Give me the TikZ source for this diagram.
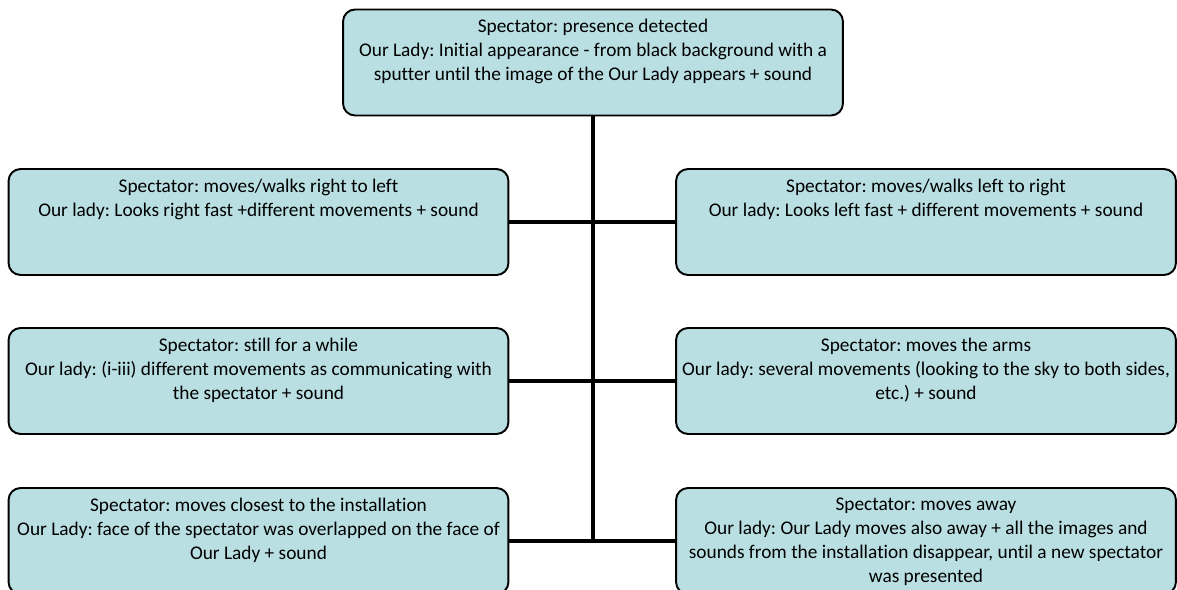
\documentclass[tikz,border=0pt]{standalone}
\usepackage{fontspec}
\setmainfont{Carlito}[Ligatures={NoCommon}]
\usepackage{tikz}
\frenchspacing

\definecolor{stagefill}{RGB}{185,223,227}
\newcommand{\stagetext}[1]{\parbox[c][1.72cm][t]{9.9cm}{\centering #1}}

\begin{document}
\begin{tikzpicture}
                [
                x=0.02cm, y=-0.02cm,
                stage/.style={rectangle,rounded corners=0.24cm,draw,line width=1.1pt,
                  fill=stagefill,inner xsep=0.05cm,inner ysep=0.2cm,
                  font=\fontsize{11pt}{13.6pt}\selectfont},
                link/.style={line width=2.8pt}
                ]
            \clip (0,0) rectangle (1177,589);
            \node[stage] (start) at (593,62.5) {\stagetext{Spectator: presence detected\\
              Our Lady: Initial appearance - from black background with a\\
              sputter until the image of the Our Lady appears + sound}};
            \node[stage] (rtl) at (258.5,222) {\stagetext{Spectator: moves/walks right to left\\
              Our lady: Looks right fast +different movements + sound}};
            \node[stage] (ltr) at (926,222) {\stagetext{Spectator: moves/walks left to right\\
              Our lady: Looks left fast + different movements + sound}};
            \node[stage] (still) at (258.5,381) {\stagetext{Spectator: still for a while\\
              Our lady: (i-iii) different movements as communicating with\\
              the spectator + sound}};
            \node[stage] (arms) at (926,381) {\stagetext{Spectator: moves the arms\\
              Our lady: several movements (looking to the sky to both sides,\\
              etc.) + sound}};
            \node[stage] (close) at (258.5,541) {\stagetext{Spectator: moves closest to the installation\\
              Our Lady: face of the spectator was overlapped on the face of\\
              Our Lady + sound}};
            \node[stage] (away) at (926,541) {\stagetext{Spectator: moves away\\
              Our lady: Our Lady moves also away + all the images and\\
              sounds from the installation disappear, until a new spectator\\
              was presented}};
            \coordinate (trunkend) at (start.south |- close.east);
            \draw[link] (start.south) -- (trunkend);
            \draw[link] (rtl.east) -- (ltr.west);
            \draw[link] (still.east) -- (arms.west);
            \draw[link] (close.east) -- (away.west);
            \end{tikzpicture}
\end{document}
